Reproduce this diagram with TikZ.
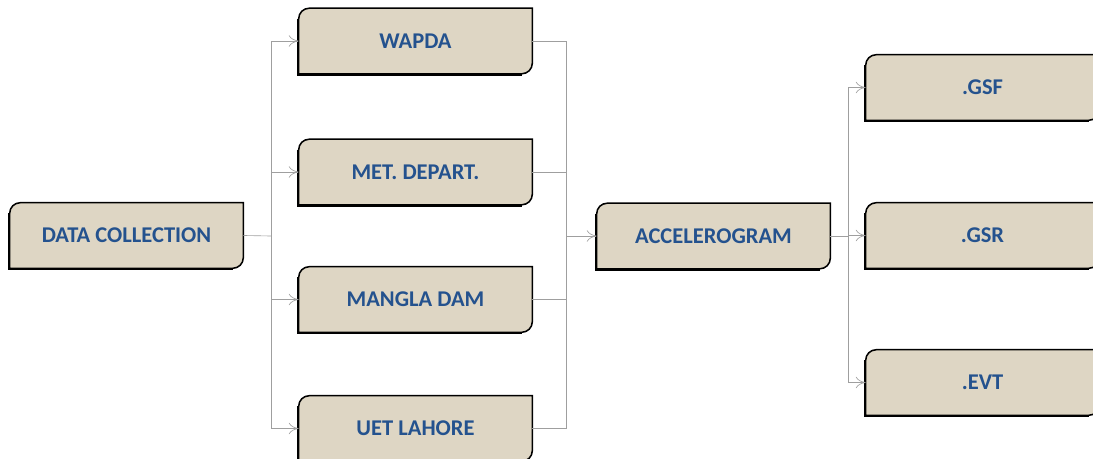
\documentclass[tikz,border=0pt]{standalone}
\usepackage{fontspec}
\setmainfont{Carlito}
\usepackage{tikz}
\usetikzlibrary{calc,arrows.meta}

\definecolor{linen}{RGB}{222,214,196}
\definecolor{labelblue}{RGB}{36,82,142}

\tikzset{
  cardbox/.style={minimum width=5.825cm, minimum height=1.625cm, inner sep=0pt,
    font=\fontsize{16}{19}\selectfont\bfseries, text=labelblue},
  link/.style={draw=gray!75, line width=0.45pt},
  tip/.style={-{To[length=7pt,width=8pt]}}
}

% outline of a box: rounded top left and bottom right
\newcommand\cardframe[1]{
\draw[fill=linen, line width=1.1pt]
 (#1.north east) -- ([xshift=7.5pt]#1.north west) arc[start angle=90,end angle=180,radius=7.5pt]
 -- (#1.south west) -- ([xshift=-7.5pt]#1.south east) arc[start angle=270,end angle=360,radius=7.5pt]
 -- cycle;
\draw[line width=1.1pt] ([xshift=-0.9pt,yshift=-7.5pt]#1.north west) -- ([xshift=-0.9pt,yshift=-0.9pt]#1.south west)
 -- ([xshift=-7.5pt,yshift=-0.9pt]#1.south east);
}

\begin{document}
\begin{tikzpicture}[x=0.025cm,y=-0.025cm]
\path[use as bounding box, clip] (0,0) rectangle (1093,459);

% sources
\node[cardbox] (dc) at (126.5,235.5) {};
\node[cardbox] (wapda) at (415.5,41) {};
\node[cardbox] (met) at (415.5,172) {};
\node[cardbox] (mangla) at (415.5,299.5) {};
\node[cardbox] (uet) at (415.5,428.5) {};
\node[cardbox] (accel) at (713.5,236) {};
\node[cardbox] (gsf) at (982.5,87.5) {};
\node[cardbox] (gsr) at (982.5,235.5) {};
\node[cardbox] (evt) at (982.5,382.5) {};

\foreach \n in {dc,wapda,met,mangla,uet,accel,gsf,gsr,evt} \cardframe{\n};

\node[cardbox] at (dc) {DATA COLLECTION};
\node[cardbox] at (wapda) {WAPDA};
\node[cardbox] at (met) {MET. DEPART.};
\node[cardbox] at (mangla) {MANGLA DAM};
\node[cardbox] at (uet) {UET LAHORE};
\node[cardbox] at (accel) {ACCELEROGRAM};
\node[cardbox] at (gsf) {.GSF};
\node[cardbox] at (gsr) {.GSR};
\node[cardbox] at (evt) {.EVT};

% connectors
\coordinate (busa) at (271,236);
\coordinate (busb) at (566,236);
\coordinate (busc) at (848,236);

\draw[link] (dc.east) -- (busa);
\foreach \n in {wapda,met,mangla,uet}{
  \draw[link,tip] (busa) |- (\n.west);
  \draw[link] (\n.east) -| (busb);
}
\draw[link,tip] (busb) -- (accel.west);

\draw[link] (accel.east) -- (busc);
\foreach \n in {gsf,gsr,evt}
  \draw[link,tip] (busc) |- (\n.west);

\end{tikzpicture}
\end{document}
